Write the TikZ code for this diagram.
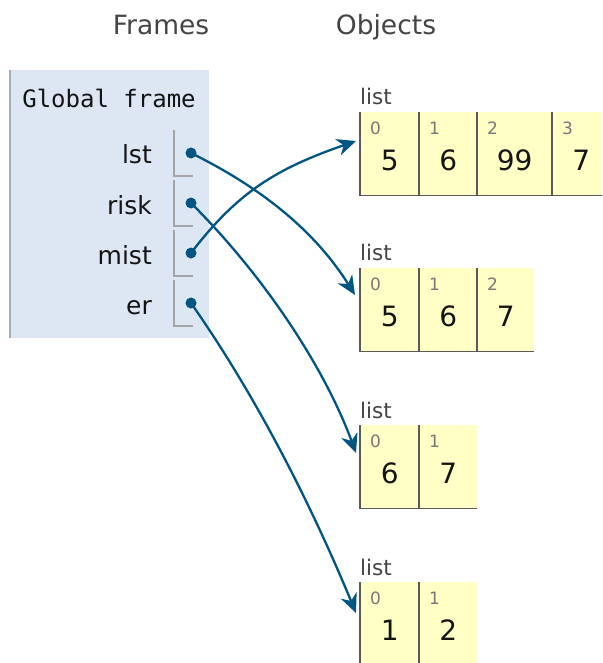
\documentclass[tikz,border=0pt]{standalone}
\usepackage{fontspec}
\setmainfont{DejaVu Sans}
\newfontfamily\pymono{DejaVu Sans Mono}
\usetikzlibrary{arrows.meta,calc}
\definecolor{framebg}{RGB}{221,231,243}
\definecolor{frameborder}{RGB}{165,173,182}
\definecolor{heapyellow}{RGB}{255,255,198}
\definecolor{cellborder}{RGB}{90,90,90}
\definecolor{arrowblue}{RGB}{0,85,131}
\definecolor{headgray}{RGB}{68,68,68}
\definecolor{idxgray}{RGB}{120,120,120}
\definecolor{brackgray}{RGB}{165,165,165}
\definecolor{textdark}{RGB}{20,20,20}
\tikzset{
  header/.style={font=\fontsize{26.5}{30}\selectfont, text=headgray, anchor=base, inner sep=0},
  framebox/.style={fill=framebg, inner sep=0, minimum width=200pt, minimum height=268pt, anchor=north west},
  frametitle/.style={font=\pymono\fontsize{24}{28}\selectfont, text=textdark, anchor=base, inner sep=0},
  varname/.style={font=\fontsize{25}{28}\selectfont, text=textdark, anchor=base east, inner sep=0},
  dotnode/.style={circle, fill=arrowblue, inner sep=0, minimum size=11pt},
  brack/.style={draw=brackgray, line width=1.4pt},
  cell/.style={fill=heapyellow, inner sep=0, minimum height=83pt, anchor=north west},
  cellline/.style={draw=cellborder, line width=1.6pt},
  idx/.style={font=\fontsize{17}{19}\selectfont, text=idxgray, anchor=west, inner sep=0},
  val/.style={font=\fontsize{28}{30}\selectfont, text=textdark, inner sep=0},
  listlbl/.style={font=\fontsize{21.5}{24}\selectfont, text=headgray, anchor=west, inner sep=0},
  ptr/.style={draw=arrowblue, line width=2.3pt, -{Stealth[length=19pt,width=17pt,inset=6pt]}}
}
\begin{document}
\begin{tikzpicture}[x=1pt,y=-1pt]
\useasboundingbox (0,0) rectangle (602,663);
\fill[white] (0,0) rectangle (602,663);
\clip (0,0) rectangle (602,663);

% headers
\node[header] (hf) at (161,35) {Frames};
\node[header] (ho) at (386,35) {Objects};

% global frame
\node[framebox] (gf) at (9,70) {};
\draw[draw=frameborder, line width=2pt] ($(gf.north west)+(1,0)$) -- ($(gf.south west)+(1,0)$);
\node[frametitle] (gft) at (109,108) {Global frame};

% variables
\foreach \n/\lab/\yy in {d1/lst/153, d2/risk/203, d3/mist/253, d4/er/303}{
  \node[varname] (\n l) at (152,\yy+11) {\lab};
  \node[dotnode] (\n) at (191,\yy) {};
  \draw[brack] ($(\n.center)+(-17,-23)$) -- ($(\n.center)+(-17,23)$) -- ($(\n.center)+(2,23)$);
}

% list 1
\node[listlbl] (l1) at (360,96) {list};
\node[cell, minimum width=59pt] (a0) at (360,112) {};
\node[cell, minimum width=58pt] (a1) at (419,112) {};
\node[cell, minimum width=75pt] (a2) at (477,112) {};
\node[cell, minimum width=58pt] (a3) at (552,112) {};
\draw[cellline] (a0.north west) -- (a0.south west) -- (a3.south east);
\foreach \c in {a1,a2,a3}{\draw[cellline] (\c.north west) -- (\c.south west);}
\foreach \c/\i/\v in {a0/0/5, a1/1/6, a2/2/99, a3/3/7}{
  \node[idx] (\c i) at ($(\c.north west)+(10,16)$) {\i};
  \node[val] (\c v) at ($(\c.north)+(0,48)$) {\v};
}

% list 2
\node[listlbl] (l2) at (360,252) {list};
\node[cell, minimum width=59pt] (b0) at (360,268) {};
\node[cell, minimum width=58pt] (b1) at (419,268) {};
\node[cell, minimum width=57pt] (b2) at (477,268) {};
\draw[cellline] (b0.north west) -- (b0.south west) -- (b2.south east);
\foreach \c in {b1,b2}{\draw[cellline] (\c.north west) -- (\c.south west);}
\foreach \c/\i/\v in {b0/0/5, b1/1/6, b2/2/7}{
  \node[idx] (\c i) at ($(\c.north west)+(10,16)$) {\i};
  \node[val] (\c v) at ($(\c.north)+(0,48)$) {\v};
}

% list 3
\node[listlbl] (l3) at (360,410) {list};
\node[cell, minimum width=59pt] (c0) at (360,425) {};
\node[cell, minimum width=58pt] (c1) at (419,425) {};
\draw[cellline] (c0.north west) -- (c0.south west) -- (c1.south east);
\draw[cellline] (c1.north west) -- (c1.south west);
\foreach \c/\i/\v in {c0/0/6, c1/1/7}{
  \node[idx] (\c i) at ($(\c.north west)+(10,16)$) {\i};
  \node[val] (\c v) at ($(\c.north)+(0,48)$) {\v};
}

% list 4
\node[listlbl] (l4) at (360,567) {list};
\node[cell, minimum width=59pt] (e0) at (360,582) {};
\node[cell, minimum width=58pt] (e1) at (419,582) {};
\draw[cellline] (e0.north west) -- (e0.south west) -- (e1.south east);
\draw[cellline] (e1.north west) -- (e1.south west);
\foreach \c/\i/\v in {e0/0/1, e1/1/2}{
  \node[idx] (\c i) at ($(\c.north west)+(10,16)$) {\i};
  \node[val] (\c v) at ($(\c.north)+(0,48)$) {\v};
}

% arrow targets
\coordinate (t1) at ($(a0.north west)+(-4,29)$);
\coordinate (t2) at ($(b0.north west)+(-5,27)$);
\coordinate (t3) at ($(c0.north west)+(-4,28)$);
\coordinate (t4) at ($(e0.north west)+(-4,31)$);

% pointers
\draw[ptr] (d1.center) .. controls (272,193) and (320,239) .. (t2);
\draw[ptr] (d2.center) .. controls (266,278) and (325,369) .. (t3);
\draw[ptr] (d3.center) .. controls (237,193) and (275,169) .. (t1);
\draw[ptr] (d4.center) .. controls (261,403) and (315,514) .. (t4);
\end{tikzpicture}
\end{document}
